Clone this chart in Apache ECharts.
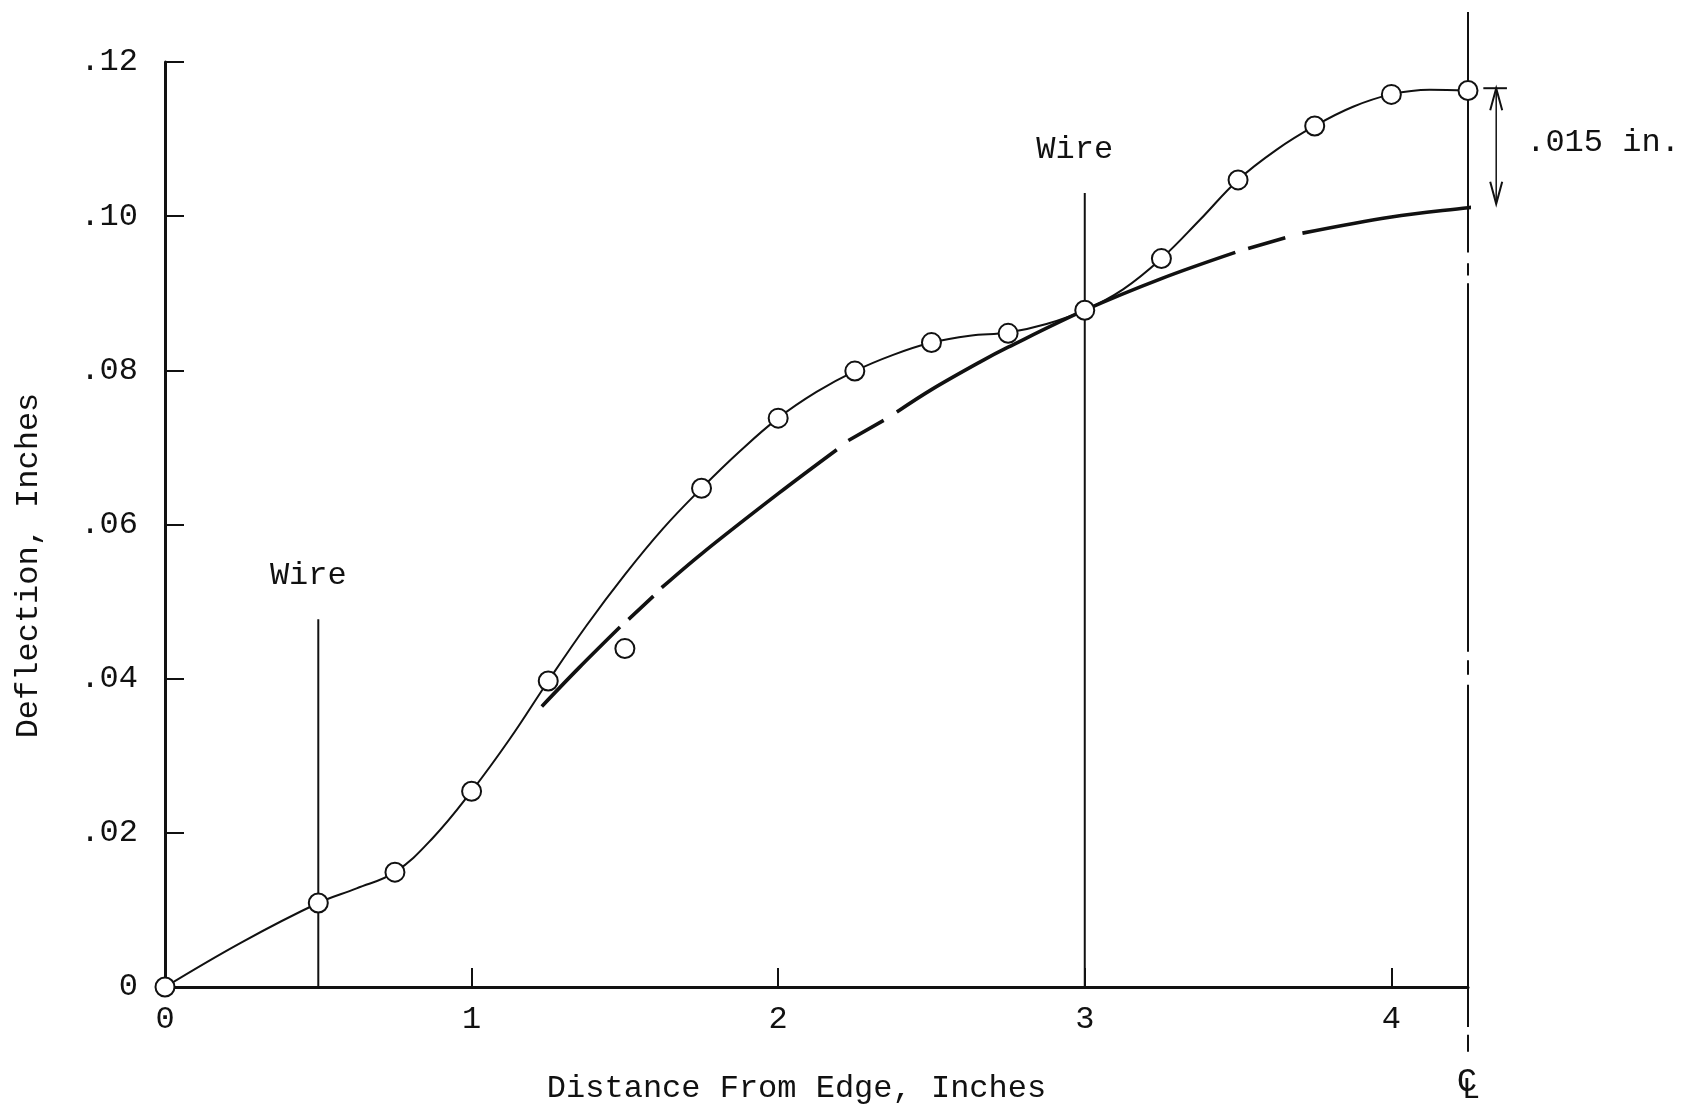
<!DOCTYPE html>
<html><head><meta charset="utf-8">
<script src="https://cdn.jsdelivr.net/npm/echarts@6/dist/echarts.min.js"></script>
<style>html,body{margin:0;padding:0;background:#fff}#chart{width:1682px;height:1113px}</style>
</head><body><div id="chart"></div>
<script>
const FONT = "'Liberation Mono', 'DejaVu Sans Mono', monospace";
const INK = '#111';
const FS = 32;

// axis ranges / ticks
const xMin = 0, xMax = 4.25, xStep = 1;
const yMin = 0, yMax = 0.12, yStep = 0.02;

// measured deflections (circles)
const measuredX = [0, 0.5, 0.75, 1.0, 1.25, 1.5, 1.75, 2.0, 2.25, 2.5, 2.75, 3.0, 3.25, 3.5, 3.75, 4.0, 4.25];
const measuredY = [0, 0.0109, 0.0149, 0.0254, 0.0397, 0.0439, 0.0647, 0.0738, 0.0799, 0.0836, 0.0848, 0.0878, 0.0945, 0.1047, 0.1117, 0.1158, 0.1163];

const fairedX = [0, 0.25, 0.5, 0.625, 0.75, 0.875, 1.0, 1.125, 1.25, 1.375, 1.5, 1.625, 1.75, 1.875, 2.0, 2.125, 2.25, 2.375, 2.5, 2.625, 2.75, 2.875, 3.0, 3.125, 3.25, 3.375, 3.5, 3.625, 3.75, 3.875, 4.0, 4.125, 4.25];
const fairedY = [0, 0.0058, 0.0109, 0.0128, 0.0149, 0.0194, 0.0254, 0.0322, 0.0397, 0.0469, 0.0535, 0.0595, 0.0647, 0.0695, 0.0738, 0.0772, 0.0799, 0.0820, 0.0836, 0.0845, 0.0849, 0.0860, 0.0878, 0.0905, 0.0945, 0.0995, 0.1047, 0.1086, 0.1117, 0.1142, 0.1158, 0.1164, 0.1163];

// thick long-dash curve (null = break between dashes)
const theoryX = [1.229, 1.35, 1.484, 1.484, 1.512, 1.593, 1.593, 1.620, 1.75, 2.0, 2.191, 2.191, 2.229, 2.344, 2.344, 2.387, 2.5, 2.659, 2.75, 3.0, 3.25, 3.491, 3.491, 3.533, 3.654, 3.654, 3.710, 4.0, 4.25, 4.357];
const theoryY = [0.0364, 0.0414, 0.0467, null, 0.0477, 0.0507, null, 0.0518, 0.0562, 0.0640, 0.0697, null, 0.0709, 0.0735, null, 0.0746, 0.0775, 0.0811, 0.0830, 0.0878, 0.0919, 0.0953, null, 0.0958, 0.0972, null, 0.0978, 0.0999, 0.1011, 0.1016];

// wire positions
const wireX = [0.5, 3.0];
const wireTop = [0.0477, 0.1030];
const wireLabels = ['Wire', 'Wire'];

// centre line (long-short-long pattern, null = gap)
const clX = 4.25;
const clY = [0.1265, 0.0953, null, 0.0939, 0.0923, null, 0.0913, 0.0435, null, 0.0424, 0.0405, null, 0.0392, -0.0052, null, -0.0062, -0.0084];
const clLabelY = -0.0122;

// .015 in. dimension
const dimX = 4.342;
const dimTop = 0.1166;
const dimBottom = 0.1016;
const dimBarX = [4.300, 4.377];
const dimLabel = '.015 in.';

const pairs = (xs, ys) => xs.map((x, i) => [x, ys[i] === null ? '-' : ys[i]]);
const wireData = [];
wireX.forEach((x, i) => { if (i) wireData.push([x, '-']); wireData.push([x, 0], [x, wireTop[i]]); });
const clData = clY.map(v => [clX, v === null ? '-' : v]);

const chart = echarts.init(document.getElementById('chart'), null, {renderer: 'canvas'});

const txt = (text, x, y, size, align) => ({
  type: 'text', x: x, y: y,
  style: {text: text, font: size + 'px ' + FONT, fill: INK, align: align, textAlign: align, verticalAlign: 'middle', textVerticalAlign: 'middle'}
});

chart.setOption({
  animation: false,
  backgroundColor: '#fff',
  grid: {left: 165, right: 214, top: 62, bottom: 126, containLabel: false},
  xAxis: {
    type: 'value', min: xMin, max: xMax, interval: xStep,
    name: 'Distance From Edge, Inches', nameLocation: 'middle', nameGap: 86,
    nameTextStyle: {fontFamily: FONT, fontSize: FS, color: INK, padding: [0, 40, 0, 0]},
    axisLine: {show: true, lineStyle: {color: INK, width: 3}},
    axisTick: {show: true, inside: true, length: 19, lineStyle: {color: INK, width: 2}},
    axisLabel: {fontFamily: FONT, fontSize: FS, color: INK, margin: 17, showMaxLabel: false,
      formatter: v => (Math.abs(v - Math.round(v)) < 1e-9 ? String(Math.round(v)) : '')},
    splitLine: {show: false}
  },
  yAxis: {
    type: 'value', min: yMin, max: yMax, interval: yStep,
    name: 'Deflection, Inches', nameLocation: 'middle', nameGap: 120, nameRotate: 90,
    nameTextStyle: {fontFamily: FONT, fontSize: FS, color: INK, padding: [0, 82, 0, 0]},
    axisLine: {show: true, lineStyle: {color: INK, width: 3}},
    axisTick: {show: true, inside: true, length: 19, lineStyle: {color: INK, width: 2}},
    axisLabel: {fontFamily: FONT, fontSize: FS, color: INK, margin: 27,
      formatter: v => (v === 0 ? '0' : '.' + String(Math.round(v * 100)).padStart(2, '0'))},
    splitLine: {show: false}
  },
  series: [
    {
      name: 'faired', type: 'line', data: pairs(fairedX, fairedY), smooth: 0.4,
      symbol: 'none', lineStyle: {color: INK, width: 2}, z: 3, clip: false
    },
    {
      name: 'theory', type: 'line', data: pairs(theoryX, theoryY), smooth: 0.35, connectNulls: false,
      symbol: 'none', lineStyle: {color: INK, width: 3.6}, z: 3, clip: false
    },
    {
      name: 'wires', type: 'line', data: wireData, connectNulls: false,
      symbol: 'none', lineStyle: {color: INK, width: 2}, z: 2, clip: false
    },
    {
      name: 'centerline', type: 'line', data: clData, connectNulls: false,
      symbol: 'none', lineStyle: {color: INK, width: 2}, z: 2, clip: false
    },
    {
      name: 'measured', type: 'scatter', data: pairs(measuredX, measuredY),
      symbol: 'circle', symbolSize: 19,
      itemStyle: {color: '#fff', borderColor: INK, borderWidth: 2, opacity: 1}, z: 6, clip: false
    },
    {
      name: 'annotations', type: 'custom', clip: false, z: 4,
      data: [[dimX, dimTop]],
      renderItem: function (params, api) {
        const children = [];
        wireX.forEach((x, i) => {
          const p = api.coord([x, wireTop[i]]);
          children.push(txt(wireLabels[i], p[0] - 10, p[1] - 44, FS, 'center'));
        });
        const t = api.coord([dimX, dimTop]);
        const b = api.coord([dimX, dimBottom]);
        const b0 = api.coord([dimBarX[0], dimTop]);
        const b1 = api.coord([dimBarX[1], dimTop]);
        const st = {stroke: INK, lineWidth: 2, fill: null};
        children.push({type: 'line', shape: {x1: b0[0], y1: b0[1], x2: b1[0], y2: b1[1]}, style: st});
        children.push({type: 'line', shape: {x1: t[0], y1: t[1], x2: b[0], y2: b[1]}, style: {stroke: INK, lineWidth: 1.5}});
        children.push({type: 'polyline', shape: {points: [[t[0] - 6, t[1] + 22], [t[0], t[1]], [t[0] + 6, t[1] + 22]]}, style: st});
        children.push({type: 'polyline', shape: {points: [[b[0] - 6, b[1] - 22], [b[0], b[1]], [b[0] + 6, b[1] - 22]]}, style: st});
        children.push(txt(dimLabel, t[0] + 30, (t[1] + b[1]) / 2 - 3, FS, 'left'));
        const c = api.coord([clX, clLabelY]);
        children.push(txt('C', c[0] - 1, c[1] + 1, 34, 'center'));
        children.push(txt('L', c[0] + 3, c[1] + 9, 30, 'center'));
        return {type: 'group', children: children};
      }
    }
  ]
});
</script>
</body></html>
